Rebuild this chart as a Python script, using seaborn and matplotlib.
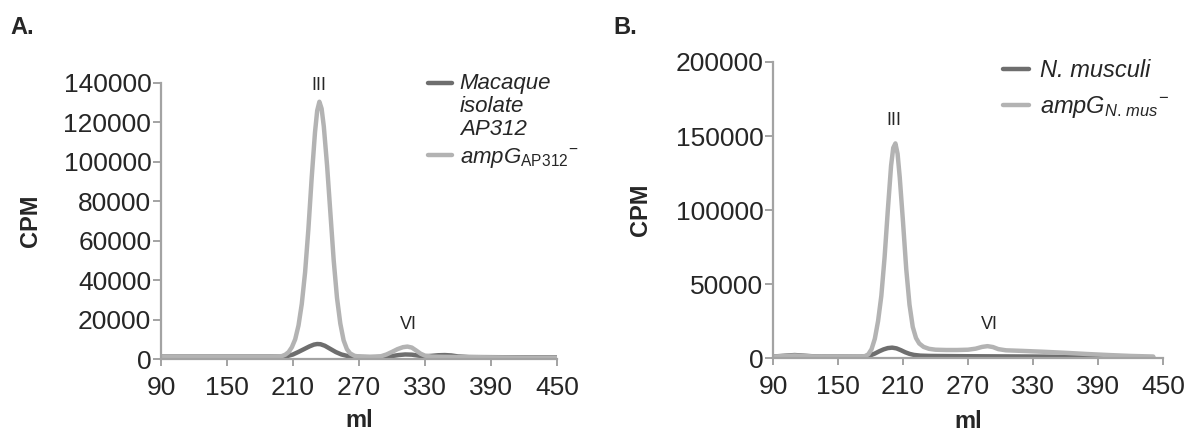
import matplotlib
matplotlib.use("Agg")
import matplotlib.pyplot as plt
import pandas as pd
import seaborn as sns

# Panel A: macaque isolate AP312 vs ampG mutant
a_wt_ml = [90, 150, 200, 205, 210, 215, 220, 225, 229, 232, 235, 239, 244, 249, 254, 259, 265,
           280, 292, 300, 306, 312, 318, 324, 330, 336, 342, 348, 354, 360, 370, 400, 450]
a_wt_cpm = [1200, 1200, 1200, 1500, 2300, 3600, 5000, 6400, 7300, 7600, 7500, 6700, 5100, 3500, 2300, 1600,
            1200, 1000, 1100, 1500, 2000, 2300, 2200, 1700, 1400, 1600, 1900, 2000, 1800, 1300, 1000, 900, 800]
a_mut_ml = [90, 120, 160, 190, 196, 200, 203, 206, 209, 212, 215, 218, 221, 224, 227, 230, 232, 234, 236,
            238, 241, 244, 247, 250, 253, 256, 259, 262, 266, 272, 280, 285, 290, 295, 300, 305, 310, 314,
            318, 322, 326, 330, 336, 345, 360, 380, 400, 420, 450]
a_mut_cpm = [1000, 1000, 1000, 1000, 1200, 1500, 2200, 3500, 6000, 10000, 17000, 28000, 44000, 66000, 92000,
             115000, 126000, 130500, 127000, 118000, 98000, 74000, 50000, 31000, 18000, 9500, 5000, 2800, 1600,
             1100, 1000, 1100, 1400, 2300, 3600, 5000, 6000, 6300, 5800, 4300, 2700, 1700, 1200, 1100, 1000,
             900, 800, 700, 600]

# Panel B: N. musculi vs ampG mutant
b_wt_ml = [90, 100, 110, 120, 130, 170, 176, 180, 184, 188, 192, 196, 200, 204, 208, 212, 216, 220, 226,
           235, 250, 270, 300, 330, 360, 390, 420, 441]
b_wt_cpm = [1000, 1500, 2000, 1500, 1000, 900, 1000, 1800, 3000, 4500, 5800, 6700, 7000, 6500, 5300, 3900,
            2800, 2100, 1600, 1400, 1300, 1200, 1100, 1000, 800, 600, 450, 400]
b_mut_ml = [90, 100, 110, 120, 130, 150, 165, 172, 175, 178, 181, 184, 187, 190, 193, 196, 199, 201, 203,
            205, 207, 210, 213, 216, 219, 222, 225, 229, 234, 240, 250, 260, 270, 277, 283, 288, 293, 298,
            305, 320, 340, 360, 380, 400, 420, 441]
b_mut_cpm = [1000, 1300, 1700, 1300, 1000, 900, 900, 1000, 1300, 2500, 6000, 13000, 25000, 42000, 68000,
             100000, 130000, 142000, 145000, 138000, 122000, 92000, 60000, 36000, 21000, 13500, 9800, 7500,
             6200, 5600, 5400, 5400, 5600, 6300, 7500, 8000, 7400, 6000, 5200, 4800, 4200, 3500, 2700, 2000,
             1400, 1000]

x_ticks = [90, 150, 210, 270, 330, 390, 450]
a_y_ticks = [0, 20000, 40000, 60000, 80000, 100000, 120000, 140000]
b_y_ticks = [0, 50000, 100000, 150000, 200000]

dark = "#6e6e6e"
light = "#b3b3b3"
axis_grey = "#a3a3a3"

sns.set_style("white")
plt.rcParams["font.family"] = ["Liberation Sans", "DejaVu Sans"]
plt.rcParams["mathtext.fontset"] = "custom"
plt.rcParams["mathtext.rm"] = "Liberation Sans"
plt.rcParams["mathtext.it"] = "Liberation Sans:italic"
plt.rcParams["mathtext.bf"] = "Liberation Sans:bold"


def make_frame(wt_ml, wt_cpm, mut_ml, mut_cpm):
    wt = pd.DataFrame({"ml": wt_ml, "CPM": wt_cpm, "strain": "wt"})
    mut = pd.DataFrame({"ml": mut_ml, "CPM": mut_cpm, "strain": "mut"})
    return pd.concat([wt, mut], ignore_index=True)


def style_axis(ax, yticks, ymax):
    ax.set_xlim(90, 450)
    ax.set_ylim(0, ymax)
    ax.set_xticks(x_ticks)
    ax.set_yticks(yticks)
    for side in ["top", "right"]:
        ax.spines[side].set_visible(False)
    for side in ["left", "bottom"]:
        ax.spines[side].set_color(axis_grey)
        ax.spines[side].set_linewidth(1.6)
    ax.tick_params(axis="y", direction="out", length=6, width=1.4, color=axis_grey,
                   labelsize=19, pad=1, left=True)
    ax.tick_params(axis="x", direction="out", length=5, width=1.4, color=axis_grey,
                   labelsize=19, pad=7, bottom=True)
    ax.set_xlabel("ml", fontsize=17, fontweight="bold")
    ax.set_ylabel("CPM", fontsize=17, fontweight="bold")


fig = plt.figure(figsize=(11.87, 4.4), dpi=100)
ax_a = fig.add_axes([161 / 1187, 1 - 359 / 440, 396 / 1187, 276 / 440])
ax_b = fig.add_axes([773 / 1187, 1 - 358 / 440, 390 / 1187, 296 / 440])

palette = {"wt": dark, "mut": light}

df_a = make_frame(a_wt_ml, a_wt_cpm, a_mut_ml, a_mut_cpm)
sns.lineplot(data=df_a, x="ml", y="CPM", hue="strain", hue_order=["wt", "mut"], palette=palette,
             linewidth=3.2, errorbar=None, legend=False, ax=ax_a)
style_axis(ax_a, a_y_ticks, 140000)
ax_a.yaxis.set_label_coords(-0.30, 0.5)
ax_a.xaxis.set_label_coords(0.5, -0.18)
ax_a.text(233.6, 138500, "III", ha="center", va="center", fontsize=13)
ax_a.text(314.5, 17300, "VI", ha="center", va="center", fontsize=13)

df_b = make_frame(b_wt_ml, b_wt_cpm, b_mut_ml, b_mut_cpm)
sns.lineplot(data=df_b, x="ml", y="CPM", hue="strain", hue_order=["wt", "mut"], palette=palette,
             linewidth=3.2, errorbar=None, legend=False, ax=ax_b)
style_axis(ax_b, b_y_ticks, 200000)
ax_b.yaxis.set_label_coords(-0.31, 0.5)
ax_b.xaxis.set_label_coords(0.5, -0.175)
ax_b.text(201.7, 160800, "III", ha="center", va="center", fontsize=13)
ax_b.text(290, 22300, "VI", ha="center", va="center", fontsize=13)

# legends
leg_a = ax_a.legend(handles=ax_a.lines[:2],
                    labels=["Macaque\nisolate\nAP312", r"$\mathit{ampG}_{\mathrm{AP312}}{}^{-}$"],
                    loc="upper left", bbox_to_anchor=(0.645, 1.075), frameon=False, borderpad=0,
                    handlelength=1.1, handletextpad=0.35, labelspacing=0.3,
                    prop={"size": 16, "style": "italic"})
for t in leg_a.get_texts():
    t.set_linespacing(1.1)
# put the first handle next to the first line of its three-line label
h0 = leg_a.legend_handles[0]
h0.set_ydata([y + 17 for y in h0.get_ydata()])

leg_b = ax_b.legend(handles=ax_b.lines[:2],
                    labels=["N. musculi", r"$\mathit{ampG}_{\mathit{N.\,mus}}{}^{-}$"],
                    loc="upper left", bbox_to_anchor=(0.56, 1.05), frameon=False, borderpad=0,
                    handlelength=1.1, handletextpad=0.45, labelspacing=0.5,
                    prop={"size": 17, "style": "italic"})

fig.text(10 / 1187, 1 - 28 / 440, "A.", fontsize=17, fontweight="bold", va="center")
fig.text(613 / 1187, 1 - 28 / 440, "B.", fontsize=17, fontweight="bold", va="center")

fig.savefig("out.png", dpi=100)
